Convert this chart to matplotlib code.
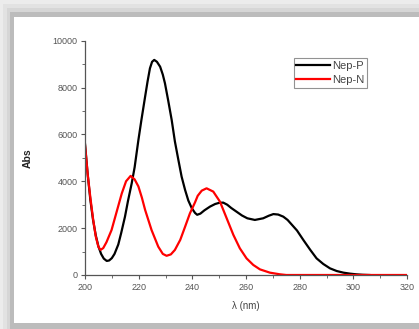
import numpy as np
import matplotlib
matplotlib.use("Agg")
import matplotlib.pyplot as plt
from matplotlib.patches import Rectangle

plt.rcParams["font.family"] = ["Liberation Sans", "DejaVu Sans"]

# Nep-P spectrum (black)
wl_p = [200, 201, 202, 203, 204, 205, 206, 207, 208.1, 209, 210, 211, 212.4, 213.5,
        214.9, 216, 217.4, 218.5, 219.9, 221, 222.4, 223.3, 224.2, 225, 225.8, 226.8,
        228, 229, 229.8, 231, 232.3, 233.5, 234.8, 236, 237.3, 238.5, 239.8, 241, 241.8,
        243, 244.5, 246.6, 248.5, 250, 251.5, 253, 254.5, 256.5, 258.5, 260.5, 263.3,
        266.4, 268.5, 270.2, 272, 273.9, 275.5, 277.6, 279, 281.4, 283.9, 286.3, 288.8,
        291.3, 293.8, 296.3, 298.8, 301.2, 303.5, 306]
abs_p = [5600, 4300, 3200, 2350, 1700, 1220, 900, 700, 600, 620, 720, 900, 1300, 1800,
         2490, 3150, 3910, 4600, 5760, 6600, 7610, 8250, 8820, 9100, 9180, 9100,
         8890, 8550, 8180, 7450, 6620, 5700, 4910, 4200, 3630, 3180, 2850, 2650, 2570,
         2620, 2760, 2920, 3030, 3080, 3090, 3000, 2860, 2700, 2540, 2420, 2350,
         2420, 2530, 2600, 2580, 2490, 2350, 2080, 1900, 1490, 1080, 710, 470,
         284, 170, 100, 57, 28, 10, 0]

# Nep-N spectrum (red)
wl_n = [200, 201, 202, 203, 204, 205, 205.8, 206.8, 208, 209.9, 211.8, 213.7, 215.3,
        217, 218.5, 219.9, 221.2, 222.4, 224.8, 227.3, 229, 230.4, 232, 233.5, 235.5,
        237.3, 239.1, 241, 242, 243.5, 245.3, 247.8, 250.3, 252.8, 255.3, 257.7, 260.2,
        262.7, 265.2, 268.9, 272.6, 275, 320]
abs_n = [5550, 4300, 3300, 2400, 1650, 1200, 1070, 1150, 1400, 1920, 2700, 3480, 4000,
         4230, 4080, 3780, 3300, 2780, 1920, 1210, 900, 820, 880, 1070, 1500,
         2060, 2630, 3100, 3380, 3600, 3700, 3560, 3130, 2420, 1710, 1140, 710,
         430, 240, 100, 30, 0, 0]

x_ticks = [200, 220, 240, 260, 280, 300, 320]
y_ticks = [0, 2000, 4000, 6000, 8000, 10000]

fig = plt.figure(figsize=(4.19, 3.29), dpi=100)
fig.patch.set_facecolor("#ececec")

# screenshot frame: grey shadow bands and the white panel
W, H = 419.0, 329.0
def band(x0, y0, x1, y1, color):
    fig.patches.append(Rectangle((x0 / W, 1 - y1 / H), (x1 - x0) / W, (y1 - y0) / H,
                                 transform=fig.transFigure, facecolor=color,
                                 edgecolor="none", zorder=-5))

band(3, 4, W, H, "#e2e2e2")
band(7, 8, W, H, "#d6d6d6")
band(10, 12, W, H, "#bcbcbc")
band(14, 17, W, 323, "white")

ax = fig.add_axes([85 / W, 1 - 275 / H, 322 / W, 234.3 / H])
ax.set_facecolor("none")
ax.set_zorder(5)

ax.plot(wl_p, abs_p, color="black", lw=1.6, label="Nep-P")
ax.plot(wl_n, abs_n, color="red", lw=1.6, label="Nep-N")

ax.set_xlim(200, 320)
ax.set_ylim(0, 10000)
ax.set_xticks(x_ticks)
ax.set_yticks(y_ticks)
ax.set_xticks(np.arange(210, 320, 20), minor=True)
ax.set_yticks(np.arange(1000, 10000, 2000), minor=True)

for s in ["top", "right"]:
    ax.spines[s].set_visible(False)
for s in ["left", "bottom"]:
    ax.spines[s].set_color("#555555")
    ax.spines[s].set_linewidth(0.9)

ax.tick_params(which="major", direction="out", length=3, width=0.8, color="#555555",
               labelsize=6.5, labelcolor="#555555", pad=2.5)
ax.tick_params(which="minor", direction="out", length=2, width=0.6, color="#555555")

ax.set_xlabel("λ (nm)", fontsize=7, color="#444444", labelpad=7)
ax.set_ylabel("Abs", fontsize=7.5, fontweight="bold", color="#222222", labelpad=14)

leg = ax.legend(loc="upper left", bbox_to_anchor=(0.648, 0.925), fontsize=8,
                frameon=True, fancybox=False, borderpad=0.25, handlelength=3.0,
                handletextpad=0.2, labelspacing=0.35, borderaxespad=0)
leg.get_frame().set_edgecolor("#777777")
leg.get_frame().set_linewidth(0.8)
for t in leg.get_texts():
    t.set_color("#444444")

fig.savefig("out.png", dpi=100, facecolor=fig.get_facecolor())
